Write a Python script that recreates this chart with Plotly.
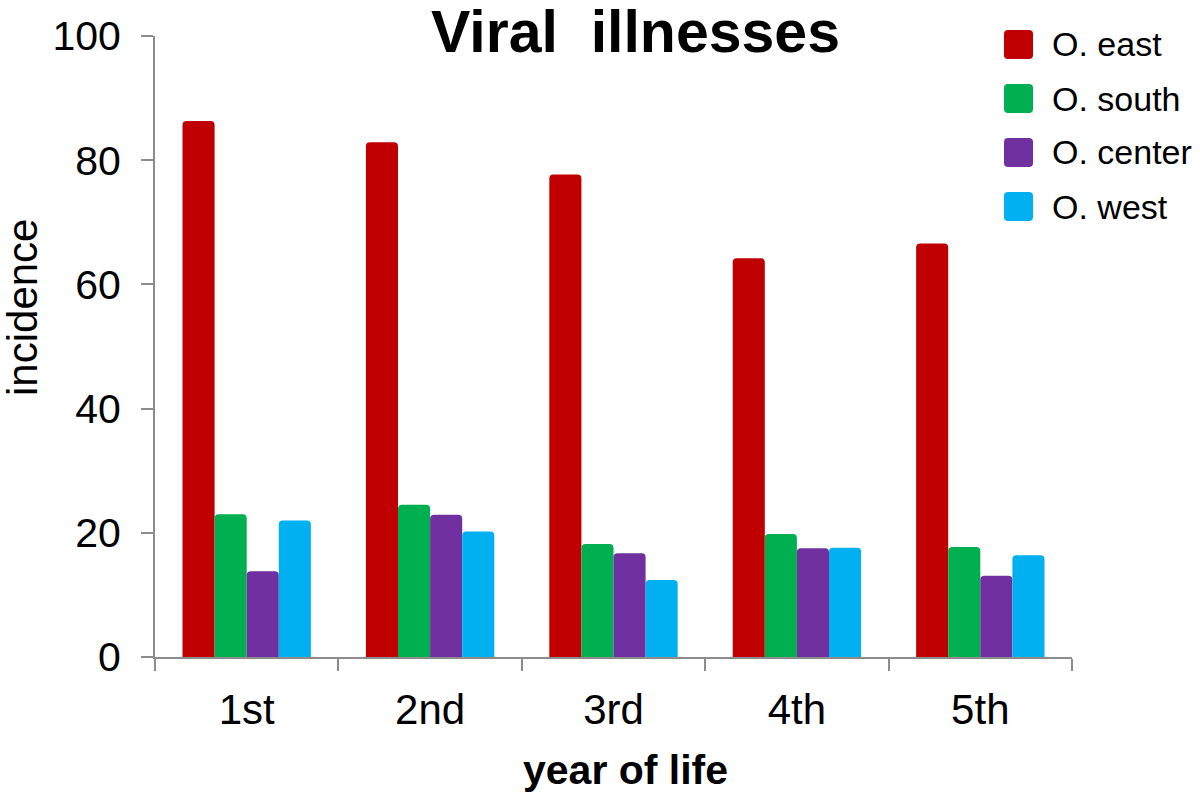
import plotly.graph_objects as go

categories = ["1st", "2nd", "3rd", "4th", "5th"]
series_names = ["O. east", "O. south", "O. center", "O. west"]
east = [86.3, 82.9, 77.7, 64.2, 66.6]
south = [23.0, 24.5, 18.2, 19.8, 17.7]
center = [13.8, 22.9, 16.7, 17.5, 13.1]
west = [22.0, 20.2, 12.4, 17.6, 16.4]
y_ticks = [0, 20, 40, 60, 80, 100]

colors = ["#C00000", "#00B050", "#7030A0", "#00B0F0"]
series_values = [east, south, center, west]

FONT = "Liberation Sans, Arial, Helvetica, sans-serif"
AXIS_GRAY = "#8C8C8C"

W, H = 1200, 794
L, R, T, B = 155, 128, 36, 137
PW, PH = W - L - R, H - T - B


def px_to_paper_x(px):
    return (px - L) / PW


def px_to_paper_y(py):
    return (H - B - py) / PH


fig = go.Figure()
for name, vals, col in zip(series_names, series_values, colors):
    fig.add_trace(go.Bar(
        x=categories, y=vals, name=name,
        marker=dict(color=col, line=dict(width=0)),
        showlegend=False,
    ))

# manual legend (large rounded squares + labels)
shapes = []
annotations = []
sq_x0, sq_x1 = 1004, 1033
row_top0, row_step, sq_h = 30, 54, 29
rad = 4


def P(x, y):
    return f"{px_to_paper_x(x):.5f},{px_to_paper_y(y):.5f}"


for i, (name, col) in enumerate(zip(series_names, colors)):
    y0 = row_top0 + i * row_step
    y1 = y0 + sq_h
    x0, x1 = sq_x0, sq_x1
    path = (
        f"M {P(x0 + rad, y0)} L {P(x1 - rad, y0)} Q {P(x1, y0)} {P(x1, y0 + rad)} "
        f"L {P(x1, y1 - rad)} Q {P(x1, y1)} {P(x1 - rad, y1)} "
        f"L {P(x0 + rad, y1)} Q {P(x0, y1)} {P(x0, y1 - rad)} "
        f"L {P(x0, y0 + rad)} Q {P(x0, y0)} {P(x0 + rad, y0)} Z"
    )
    shapes.append(dict(type="path", xref="paper", yref="paper", path=path,
                       fillcolor=col, line=dict(width=0), layer="above"))
    annotations.append(dict(
        x=px_to_paper_x(1050), y=px_to_paper_y((y0 + y1) / 2),
        xref="paper", yref="paper", xanchor="left", yanchor="middle",
        text=name, showarrow=False,
        font=dict(family=FONT, size=34, color="black"),
    ))

# axis titles as annotations
annotations.append(dict(
    x=px_to_paper_x(23), y=px_to_paper_y(308), xref="paper", yref="paper",
    xanchor="center", yanchor="middle", textangle=-90,
    text="incidence", showarrow=False,
    font=dict(family=FONT, size=42, color="black"),
))
annotations.append(dict(
    x=px_to_paper_x(625), y=px_to_paper_y(770), xref="paper", yref="paper",
    xanchor="center", yanchor="middle",
    text="<b>year of life</b>", showarrow=False,
    font=dict(family=FONT, size=41, color="black"),
))

fig.update_layout(
    width=W, height=H,
    margin=dict(l=L, r=R, t=T, b=B, pad=0),
    paper_bgcolor="white", plot_bgcolor="white",
    barmode="group", bargap=0.3, bargroupgap=0.0,
    barcornerradius=4,
    title=dict(
        text="<b>Viral\u00a0\u00a0illnesses</b>",
        x=635.5 / W, xref="container", xanchor="center",
        y=1 - 11 / H, yref="container", yanchor="top",
        font=dict(family=FONT, size=59, color="black"),
    ),
    font=dict(family=FONT, color="black"),
    shapes=shapes,
    annotations=annotations,
    xaxis=dict(
        type="category", range=[-0.5, 4.5],
        showline=True, linecolor=AXIS_GRAY, linewidth=2,
        ticks="outside", tickson="boundaries", ticklen=12, tickwidth=2,
        tickcolor=AXIS_GRAY, showgrid=False, zeroline=False,
        tickfont=dict(family=FONT, size=42, color="black"),
        ticklabelstandoff=15,
    ),
    yaxis=dict(
        range=[0, 100], tickvals=y_ticks, ticktext=[str(v) for v in y_ticks],
        showline=True, linecolor=AXIS_GRAY, linewidth=2,
        ticks="outside", ticklen=12, tickwidth=2, tickcolor=AXIS_GRAY,
        showgrid=False, zeroline=False,
        tickfont=dict(family=FONT, size=41, color="black"),
        ticklabelstandoff=12,
    ),
)

fig.write_html(
    "out.html",
    config={"displayModeBar": False},
    post_script="document.body.style.margin='0px';document.body.style.overflow='hidden';",
)
